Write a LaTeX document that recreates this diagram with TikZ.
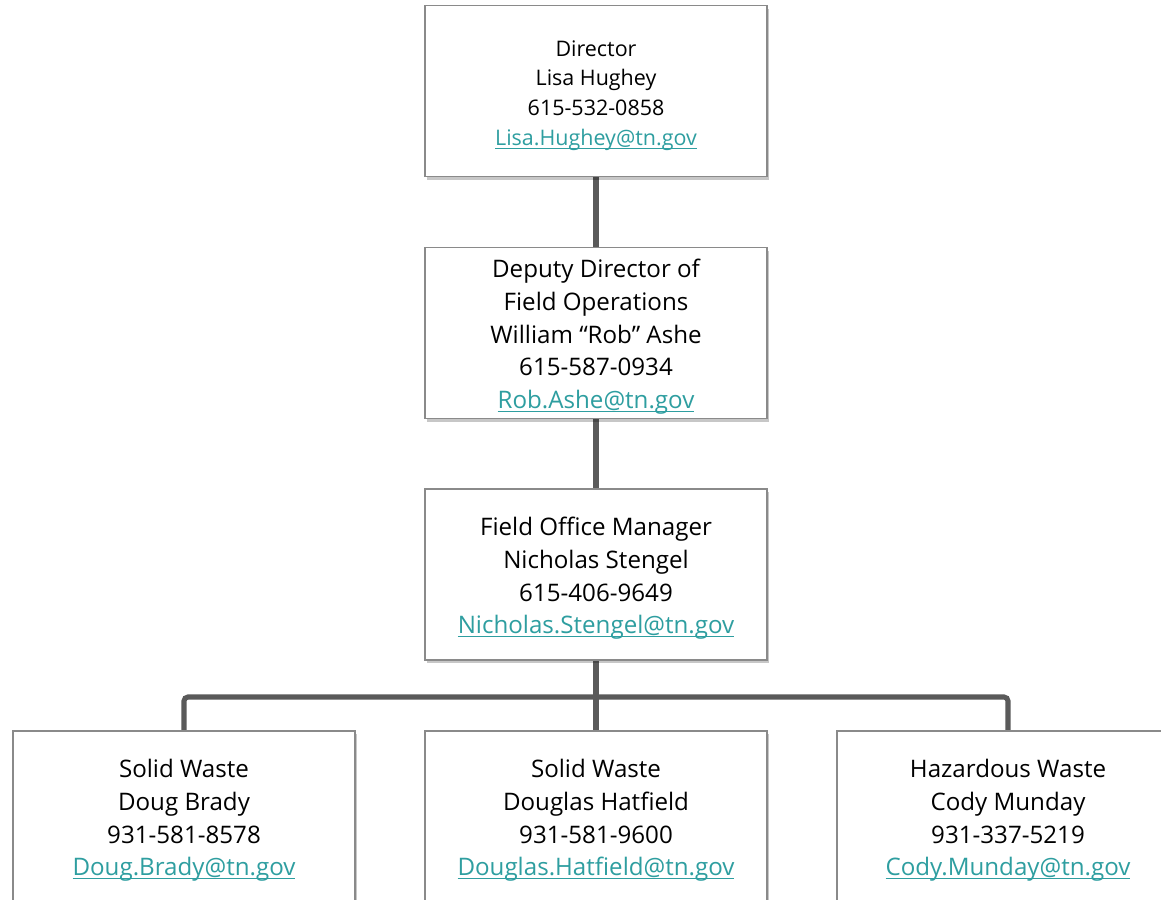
\documentclass[tikz,border=0pt]{standalone}
\usepackage{fontspec}
\setmainfont{Open Sans}
\usetikzlibrary{shadows}
\definecolor{linkcol}{HTML}{2E9EA0}
\definecolor{boxline}{HTML}{8A8A8A}
\definecolor{connline}{HTML}{5A5A5A}
\newsavebox{\mailbox}
\newcommand{\mail}[1]{\textcolor{linkcol}{\sbox{\mailbox}{#1}\rlap{\rule[-2.4pt]{\wd\mailbox}{0.75pt}}\usebox{\mailbox}}}
\tikzset{
  orgbox/.style={draw=boxline, line width=0.8pt, fill=white, minimum width=256.5pt, minimum height=128.25pt,
    inner sep=0pt,
    drop shadow={shadow xshift=1.5pt, shadow yshift=-2.5pt, fill=black, opacity=0.22}},
  orgtext/.style={align=center, inner sep=0pt, font=\fontsize{18.1}{24.5}\selectfont},
  toptext/.style={orgtext, font=\fontsize{16.1}{22.3}\selectfont},
  conn/.style={draw=connline, line width=3.8pt, rounded corners=3pt}
}
\begin{document}
\begin{tikzpicture}[x=0.75pt, y=-0.75pt]
\useasboundingbox (0,0) rectangle (1161,900);
\clip (0,0) rectangle (1161,900);
\fill[white] (0,0) rectangle (1161,900);
\coordinate (bus) at (596,697);
% connectors (drawn first, boxes on top)
\coordinate (p1) at (596,91);
\coordinate (p3) at (596,574.5);
\draw[conn] (p1) -- (p3);
\draw[conn] (184,800) |- (bus) -| (1008,800);
\draw[conn] (bus) -- (596,800);
\draw[conn] (p3) -- (bus);
% boxes
\node[orgbox] (d1) at (596,91) {};
\node[orgbox] (d2) at (596,333) {};
\node[orgbox] (d3) at (596,574.5) {};
\node[orgbox] (c1) at (184,816.5) {};
\node[orgbox] (c2) at (596,816.5) {};
\node[orgbox] (c3) at (1008,816.5) {};
% texts
\node[toptext] (d1t) at ([yshift=-3.4pt]d1.center) {Director\\Lisa Hughey\\615-532-0858\\\mail{Lisa.Hughey@tn.gov}};
\node[orgtext] (d2t) at ([yshift=-2.8pt]d2.center) {Deputy Director of\\Field Operations\\William “Rob” Ashe\\615-587-0934\\\mail{Rob.Ashe@tn.gov}};
\node[orgtext] (d3t) at ([yshift=-3pt]d3.center) {Field Office Manager\\Nicholas Stengel\\615-406-9649\\\mail{Nicholas.Stengel@tn.gov}};
\node[orgtext] (c1t) at ([yshift=-3pt]c1.center) {Solid Waste\\Doug Brady\\931-581-8578\\\mail{Doug.Brady@tn.gov}};
\node[orgtext] (c2t) at ([yshift=-3pt]c2.center) {Solid Waste\\Douglas Hatfield\\931-581-9600\\\mail{Douglas.Hatfield@tn.gov}};
\node[orgtext] (c3t) at ([yshift=-3pt]c3.center) {Hazardous Waste\\Cody Munday\\931-337-5219\\\mail{Cody.Munday@tn.gov}};
\end{tikzpicture}
\end{document}
